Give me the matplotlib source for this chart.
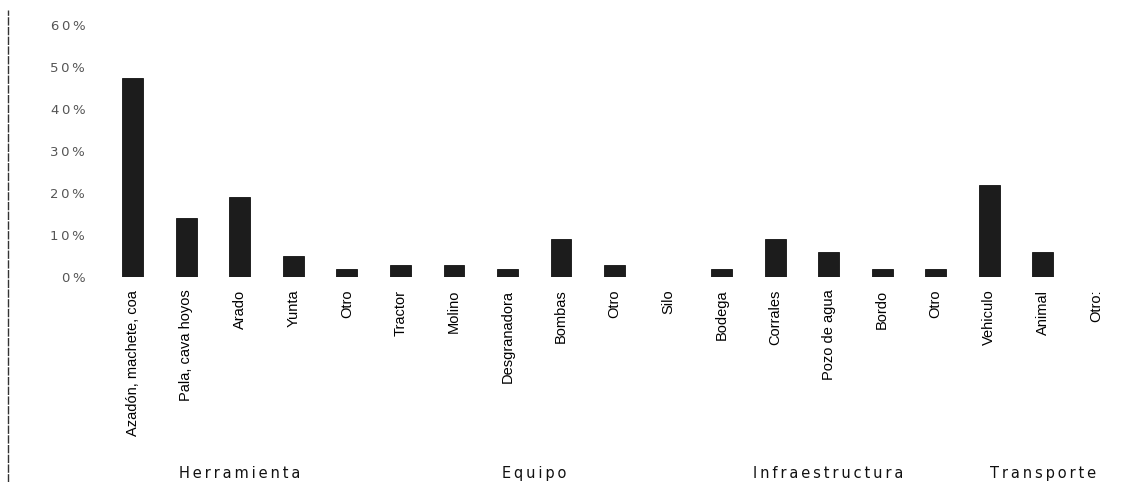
import numpy as np
import matplotlib.pyplot as plt
from matplotlib.lines import Line2D
from matplotlib.ticker import FuncFormatter

# data ==========================
labels = ['Azadón, machete, coa', 'Pala, cava hoyos', 'Arado', 'Yunta', 'Otro',
          'Tractor', 'Molino', 'Desgranadora', 'Bombas', 'Otro', 'Silo',
          'Bodega', 'Corrales', 'Pozo de agua', 'Bordo', 'Otro',
          'Vehiculo', 'Animal', 'Otro:']
values = [47.5, 14, 19, 5, 2,
          3, 3, 2, 9, 3, 0,
          2, 9, 6, 2, 2,
          22, 6, 0]
groups = ['Herramienta', 'Equipo', 'Infraestructura', 'Transporte']
group_sizes = [5, 6, 5, 3]
yticks = [0, 10, 20, 30, 40, 50, 60]

TS = '\u2009'  # thin space, to spread letters like the scan


def spread(s):
    return TS.join(s)


# figure ========================
fig = plt.figure(figsize=(11.44, 4.82), dpi=100)
ax = fig.add_axes([0.0927, 0.425, 0.889, 0.523])

x = np.arange(len(labels))
ax.bar(x, values, width=0.39, color='#1c1c1c', edgecolor='#111111', linewidth=0.6)

ax.set_xlim(-0.5, len(labels) - 0.5)
ax.set_ylim(0, 60)
ax.set_yticks(yticks)
ax.yaxis.set_major_formatter(FuncFormatter(lambda v, p: spread('%d%%' % v)))
for s in ax.spines.values():
    s.set_visible(False)
ax.tick_params(axis='y', length=0, pad=15, labelsize=9.5, labelcolor='#555555')
ax.tick_params(axis='x', length=0, pad=9)
ax.set_xticks(x)
ax.set_xticklabels(labels, rotation=90, va='top', ha='center', fontsize=10.5,
                   family=['Liberation Sans', 'DejaVu Sans'])
for t in ax.get_yticklabels():
    t.set_family('DejaVu Sans')

# group labels under the ticks
start = 0
for g, n in zip(groups, group_sizes):
    mid = start + (n - 1) / 2
    ax.text(mid, -0.78, spread(g), transform=ax.get_xaxis_transform(), ha='center',
            va='center', fontsize=10.5, color='#111111', family='DejaVu Sans')
    start += n

# scanned page border at the left
fig.add_artist(Line2D([0.007, 0.007], [0.0, 0.98], transform=fig.transFigure,
                      color='#333333', linewidth=1.0, linestyle=(0, (6, 1))))

fig.savefig('out.png', dpi=100)
